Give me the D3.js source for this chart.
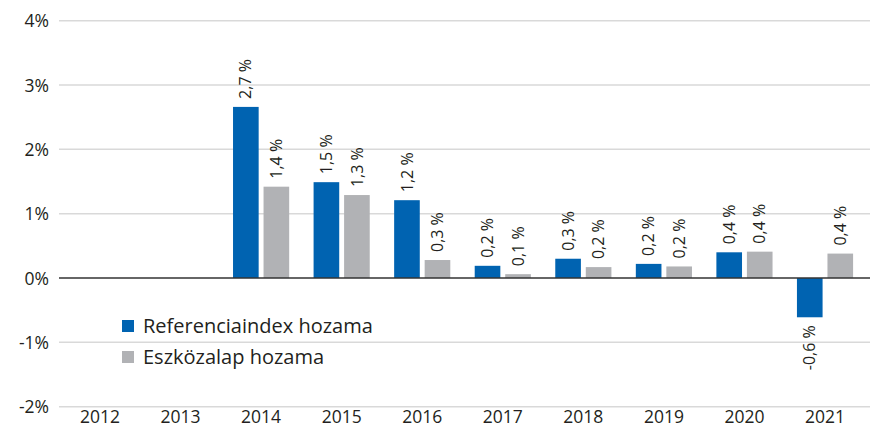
<!DOCTYPE html>
<html>
<head>
<meta charset="utf-8">
<script src="https://cdn.jsdelivr.net/npm/d3@7"></script>
<style>
  body { margin: 0; background: #fff; }
  svg text { font-family: "Open Sans", "Noto Sans", sans-serif; fill: #231f20; }
</style>
</head>
<body>
<div id="chart"></div>
<script>
// data
var years = ["2012","2013","2014","2015","2016","2017","2018","2019","2020","2021"];
var referenciaindex = [null, null, 2.66, 1.49, 1.21, 0.19, 0.30, 0.22, 0.40, -0.61];
var eszkozalap = [null, null, 1.42, 1.29, 0.28, 0.06, 0.17, 0.18, 0.41, 0.38];
var yTicks = [-2, -1, 0, 1, 2, 3, 4];
var seriesNames = ["Referenciaindex hozama", "Eszközalap hozama"];
var seriesColors = ["#0063b1", "#b1b2b5"];

var width = 870, height = 432;
var svg = d3.select("#chart").append("svg")
    .attr("width", width)
    .attr("height", height);

var x = d3.scaleBand().domain(years).range([59.7, 865.3]).padding(0);
var xSub = d3.scaleBand().domain([0, 1]).range([0, x.bandwidth()])
    .paddingInner(0.16).paddingOuter(0.4);
var y = d3.scaleLinear().domain([-2, 4]).range([406.7, 20.7]);

//** gridlines
svg.append("g").selectAll("line")
    .data(yTicks.filter(function(d){ return d !== 0; }))
    .enter().append("line")
    .attr("x1", 59).attr("x2", width)
    .attr("y1", function(d){ return y(d); })
    .attr("y2", function(d){ return y(d); })
    .attr("stroke", "#d9d9d9")
    .attr("stroke-width", 1.5);

//** y axis labels
var yAxis = d3.axisLeft(y).tickValues(yTicks)
    .tickFormat(function(d){ return d + "%"; })
    .tickSize(0).tickPadding(0);
var yg = svg.append("g").attr("transform", "translate(49,0)").call(yAxis);
yg.select(".domain").remove();
yg.selectAll("text").style("font-size", "17.5px").attr("dy", "0.35em");

//** x axis labels
var xAxis = d3.axisBottom(x).tickSize(0).tickPadding(0);
var xg = svg.append("g").attr("transform", "translate(0,411)").call(xAxis);
xg.select(".domain").remove();
xg.selectAll("text").style("font-size", "17.5px").attr("dy", "0.71em");

//** bars
var series = [referenciaindex, eszkozalap];
var fmt = function(v){ return v.toFixed(1).replace(".", ",") + " %"; };

series.forEach(function(values, s){
    var pts = years.map(function(yr, i){ return {year: yr, v: values[i]}; })
        .filter(function(d){ return d.v !== null; });
    var g = svg.append("g");
    g.selectAll("rect").data(pts).enter().append("rect")
        .attr("x", function(d){ return x(d.year) + xSub(s); })
        .attr("width", xSub.bandwidth())
        .attr("y", function(d){ return y(Math.max(0, d.v)); })
        .attr("height", function(d){ return Math.abs(y(d.v) - y(0)); })
        .attr("fill", seriesColors[s]);

    g.selectAll("text").data(pts).enter().append("text")
        .attr("transform", function(d){
            var cx = x(d.year) + xSub(s) + xSub.bandwidth() / 2;
            var cy = d.v >= 0 ? y(d.v) - 8 : y(d.v) + 8;
            return "translate(" + cx + "," + cy + ") rotate(-90)";
        })
        .attr("text-anchor", function(d){ return d.v >= 0 ? "start" : "end"; })
        .attr("dy", "0.35em")
        .style("font-size", "16px")
        .text(function(d){ return fmt(d.v); });
});

//** zero line
svg.append("line")
    .attr("x1", 59).attr("x2", width)
    .attr("y1", y(0)).attr("y2", y(0))
    .attr("stroke", "#333")
    .attr("stroke-width", 1.5);

//** legend
var legend = svg.append("g").attr("transform", "translate(122,320)");
seriesNames.forEach(function(name, i){
    var row = legend.append("g").attr("transform", "translate(0," + (i * 31) + ")");
    row.append("rect").attr("width", 12).attr("height", 12)
        .attr("fill", seriesColors[i]);
    row.append("text").attr("x", 21).attr("y", 6).attr("dy", "0.35em")
        .style("font-size", "20px")
        .text(name);
});
</script>
</body>
</html>
